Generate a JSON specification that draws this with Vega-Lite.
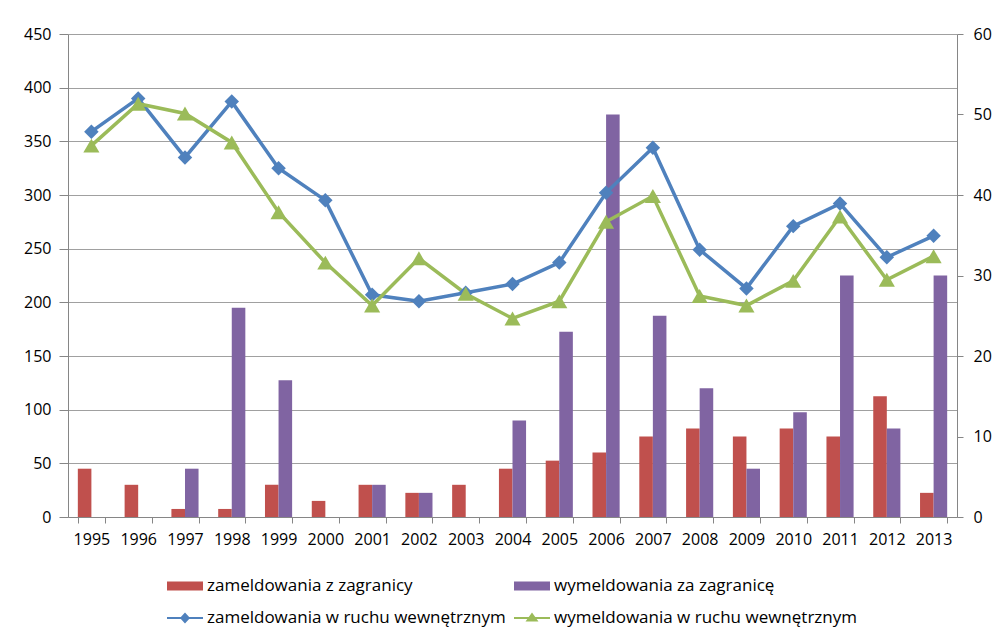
{
  "$schema": "https://vega.github.io/schema/vega-lite/v6.json",
  "width": 889,
  "height": 483,
  "autosize": {"type": "none"},
  "padding": {"left": 68, "top": 34, "right": 38, "bottom": 119},
  "background": "white",
  "config": {
    "font": "Open Sans",
    "view": {"stroke": null},
    "axis": {
      "labelFont": "Open Sans",
      "labelFontSize": 16,
      "labelColor": "#000000",
      "domainColor": "#868686",
      "tickColor": "#868686",
      "gridColor": "#a0a0a0",
      "title": null
    }
  },
  "datasets": {
    "bars": [
      {"year": "1995", "series": "zameldowania z zagranicy", "value": 6},
      {"year": "1996", "series": "zameldowania z zagranicy", "value": 4},
      {"year": "1997", "series": "zameldowania z zagranicy", "value": 1},
      {"year": "1998", "series": "zameldowania z zagranicy", "value": 1},
      {"year": "1999", "series": "zameldowania z zagranicy", "value": 4},
      {"year": "2000", "series": "zameldowania z zagranicy", "value": 2},
      {"year": "2001", "series": "zameldowania z zagranicy", "value": 4},
      {"year": "2002", "series": "zameldowania z zagranicy", "value": 3},
      {"year": "2003", "series": "zameldowania z zagranicy", "value": 4},
      {"year": "2004", "series": "zameldowania z zagranicy", "value": 6},
      {"year": "2005", "series": "zameldowania z zagranicy", "value": 7},
      {"year": "2006", "series": "zameldowania z zagranicy", "value": 8},
      {"year": "2007", "series": "zameldowania z zagranicy", "value": 10},
      {"year": "2008", "series": "zameldowania z zagranicy", "value": 11},
      {"year": "2009", "series": "zameldowania z zagranicy", "value": 10},
      {"year": "2010", "series": "zameldowania z zagranicy", "value": 11},
      {"year": "2011", "series": "zameldowania z zagranicy", "value": 10},
      {"year": "2012", "series": "zameldowania z zagranicy", "value": 15},
      {"year": "2013", "series": "zameldowania z zagranicy", "value": 3},
      {"year": "1995", "series": "wymeldowania za zagranicę", "value": 0},
      {"year": "1996", "series": "wymeldowania za zagranicę", "value": 0},
      {"year": "1997", "series": "wymeldowania za zagranicę", "value": 6},
      {"year": "1998", "series": "wymeldowania za zagranicę", "value": 26},
      {"year": "1999", "series": "wymeldowania za zagranicę", "value": 17},
      {"year": "2000", "series": "wymeldowania za zagranicę", "value": 0},
      {"year": "2001", "series": "wymeldowania za zagranicę", "value": 4},
      {"year": "2002", "series": "wymeldowania za zagranicę", "value": 3},
      {"year": "2003", "series": "wymeldowania za zagranicę", "value": 0},
      {"year": "2004", "series": "wymeldowania za zagranicę", "value": 12},
      {"year": "2005", "series": "wymeldowania za zagranicę", "value": 23},
      {"year": "2006", "series": "wymeldowania za zagranicę", "value": 50},
      {"year": "2007", "series": "wymeldowania za zagranicę", "value": 25},
      {"year": "2008", "series": "wymeldowania za zagranicę", "value": 16},
      {"year": "2009", "series": "wymeldowania za zagranicę", "value": 6},
      {"year": "2010", "series": "wymeldowania za zagranicę", "value": 13},
      {"year": "2011", "series": "wymeldowania za zagranicę", "value": 30},
      {"year": "2012", "series": "wymeldowania za zagranicę", "value": 11},
      {"year": "2013", "series": "wymeldowania za zagranicę", "value": 30}
    ],
    "lines": [
      {"year": "1995", "series": "zameldowania w ruchu wewnętrznym", "value": 359},
      {"year": "1996", "series": "zameldowania w ruchu wewnętrznym", "value": 390},
      {"year": "1997", "series": "zameldowania w ruchu wewnętrznym", "value": 335},
      {"year": "1998", "series": "zameldowania w ruchu wewnętrznym", "value": 387},
      {"year": "1999", "series": "zameldowania w ruchu wewnętrznym", "value": 325},
      {"year": "2000", "series": "zameldowania w ruchu wewnętrznym", "value": 295},
      {"year": "2001", "series": "zameldowania w ruchu wewnętrznym", "value": 207},
      {"year": "2002", "series": "zameldowania w ruchu wewnętrznym", "value": 201},
      {"year": "2003", "series": "zameldowania w ruchu wewnętrznym", "value": 209},
      {"year": "2004", "series": "zameldowania w ruchu wewnętrznym", "value": 217},
      {"year": "2005", "series": "zameldowania w ruchu wewnętrznym", "value": 237},
      {"year": "2006", "series": "zameldowania w ruchu wewnętrznym", "value": 302},
      {"year": "2007", "series": "zameldowania w ruchu wewnętrznym", "value": 344},
      {"year": "2008", "series": "zameldowania w ruchu wewnętrznym", "value": 249},
      {"year": "2009", "series": "zameldowania w ruchu wewnętrznym", "value": 213},
      {"year": "2010", "series": "zameldowania w ruchu wewnętrznym", "value": 271},
      {"year": "2011", "series": "zameldowania w ruchu wewnętrznym", "value": 292},
      {"year": "2012", "series": "zameldowania w ruchu wewnętrznym", "value": 242},
      {"year": "2013", "series": "zameldowania w ruchu wewnętrznym", "value": 262},
      {"year": "1995", "series": "wymeldowania w ruchu wewnętrznym", "value": 346},
      {"year": "1996", "series": "wymeldowania w ruchu wewnętrznym", "value": 385},
      {"year": "1997", "series": "wymeldowania w ruchu wewnętrznym", "value": 376},
      {"year": "1998", "series": "wymeldowania w ruchu wewnętrznym", "value": 349},
      {"year": "1999", "series": "wymeldowania w ruchu wewnętrznym", "value": 284},
      {"year": "2000", "series": "wymeldowania w ruchu wewnętrznym", "value": 237},
      {"year": "2001", "series": "wymeldowania w ruchu wewnętrznym", "value": 197},
      {"year": "2002", "series": "wymeldowania w ruchu wewnętrznym", "value": 241},
      {"year": "2003", "series": "wymeldowania w ruchu wewnętrznym", "value": 208},
      {"year": "2004", "series": "wymeldowania w ruchu wewnętrznym", "value": 185},
      {"year": "2005", "series": "wymeldowania w ruchu wewnętrznym", "value": 201},
      {"year": "2006", "series": "wymeldowania w ruchu wewnętrznym", "value": 275},
      {"year": "2007", "series": "wymeldowania w ruchu wewnętrznym", "value": 299},
      {"year": "2008", "series": "wymeldowania w ruchu wewnętrznym", "value": 206},
      {"year": "2009", "series": "wymeldowania w ruchu wewnętrznym", "value": 197},
      {"year": "2010", "series": "wymeldowania w ruchu wewnętrznym", "value": 220},
      {"year": "2011", "series": "wymeldowania w ruchu wewnętrznym", "value": 280},
      {"year": "2012", "series": "wymeldowania w ruchu wewnętrznym", "value": 221},
      {"year": "2013", "series": "wymeldowania w ruchu wewnętrznym", "value": 243}
    ]
  },
  "encoding": {
    "x": {
      "field": "year",
      "type": "ordinal",
      "scale": {"type": "band", "paddingInner": 0.42, "paddingOuter": 0.21},
      "axis": {
        "orient": "bottom",
        "grid": false,
        "tickBand": "extent",
        "tickSize": 6,
        "labelPadding": 8,
        "labelAngle": 0,
        "domainColor": "#868686"
      }
    }
  },
  "layer": [
    {
      "data": {"name": "bars"},
      "mark": {"type": "bar"},
      "encoding": {
        "xOffset": {
          "field": "series",
          "type": "nominal",
          "scale": {"domain": ["zameldowania z zagranicy", "wymeldowania za zagranicę"], "paddingInner": 0, "paddingOuter": 0}
        },
        "y": {
          "field": "value",
          "type": "quantitative",
          "scale": {"domain": [0, 60], "nice": false},
          "axis": {
            "orient": "right",
            "values": [0, 10, 20, 30, 40, 50, 60],
            "grid": false,
            "tickSize": 6,
            "labelPadding": 10
          }
        },
        "color": {
          "field": "series",
          "type": "nominal",
          "scale": {
            "domain": ["zameldowania z zagranicy", "wymeldowania za zagranicę", "zameldowania w ruchu wewnętrznym", "wymeldowania w ruchu wewnętrznym"],
            "range": ["#C0504D", "#8064A2", "#4F81BD", "#9BBB59"]
          },
          "legend": {
            "orient": "none",
            "legendX": 99,
            "legendY": 534,
            "direction": "horizontal",
            "columns": 2,
            "title": null,
            "padding": 0,
            "symbolSize": 1296,
            "labelFont": "Open Sans",
            "labelFontSize": 17,
            "labelColor": "#000000",
            "labelOffset": 4,
            "labelLimit": 400,
            "columnPadding": 8,
            "rowPadding": 6,
            "encode": {
              "symbols": {
                "update": {
                  "shape": {"signal": "datum.value == 'zameldowania w ruchu wewnętrznym' ? 'M-1,-0.055H1V0.055H-1Z M0,-0.3L0.28,0L0,0.3L-0.28,0Z' : (datum.value == 'wymeldowania w ruchu wewnętrznym' ? 'M-1,-0.055H1V0.055H-1Z M0,-0.3L0.36,0.2L-0.36,0.2Z' : 'M-1,-0.25H1V0.25H-1Z')"},
                  "fill": {"scale": "color", "field": "value"},
                  "strokeWidth": {"value": 0},
                  "opacity": {"value": 1}
                }
              }
            }
          }
        }
      }
    },
    {
      "data": {"name": "lines"},
      "encoding": {
        "y": {
          "field": "value",
          "type": "quantitative",
          "scale": {"domain": [0, 450], "nice": false},
          "axis": {
            "orient": "left",
            "values": [0, 50, 100, 150, 200, 250, 300, 350, 400, 450],
            "grid": true,
            "tickSize": 9,
            "labelPadding": 8
          }
        },
        "color": {
          "field": "series",
          "type": "nominal",
          "scale": {
            "domain": ["zameldowania z zagranicy", "wymeldowania za zagranicę", "zameldowania w ruchu wewnętrznym", "wymeldowania w ruchu wewnętrznym"],
            "range": ["#C0504D", "#8064A2", "#4F81BD", "#9BBB59"]
          },
          "legend": {
            "orient": "none",
            "legendX": 99,
            "legendY": 534,
            "direction": "horizontal",
            "columns": 2,
            "title": null,
            "padding": 0,
            "symbolSize": 1296,
            "labelFont": "Open Sans",
            "labelFontSize": 17,
            "labelColor": "#000000",
            "labelOffset": 4,
            "labelLimit": 400,
            "columnPadding": 8,
            "rowPadding": 6,
            "encode": {
              "symbols": {
                "update": {
                  "shape": {"signal": "datum.value == 'zameldowania w ruchu wewnętrznym' ? 'M-1,-0.055H1V0.055H-1Z M0,-0.3L0.28,0L0,0.3L-0.28,0Z' : (datum.value == 'wymeldowania w ruchu wewnętrznym' ? 'M-1,-0.055H1V0.055H-1Z M0,-0.3L0.36,0.2L-0.36,0.2Z' : 'M-1,-0.25H1V0.25H-1Z')"},
                  "fill": {"scale": "color", "field": "value"},
                  "strokeWidth": {"value": 0},
                  "opacity": {"value": 1}
                }
              }
            }
          }
        }
      },
      "layer": [
        {"mark": {"type": "line", "strokeWidth": 3.5}},
        {
          "mark": {"type": "point", "filled": true, "opacity": 1},
          "encoding": {
            "shape": {
              "field": "series",
              "type": "nominal",
              "scale": {"domain": ["zameldowania w ruchu wewnętrznym", "wymeldowania w ruchu wewnętrznym"], "range": ["diamond", "triangle-up"]},
              "legend": null
            },
            "size": {
              "field": "series",
              "type": "nominal",
              "scale": {"domain": ["zameldowania w ruchu wewnętrznym", "wymeldowania w ruchu wewnętrznym"], "range": [210, 260]},
              "legend": null
            }
          }
        }
      ]
    }
  ],
  "resolve": {"scale": {"y": "independent"}}
}
